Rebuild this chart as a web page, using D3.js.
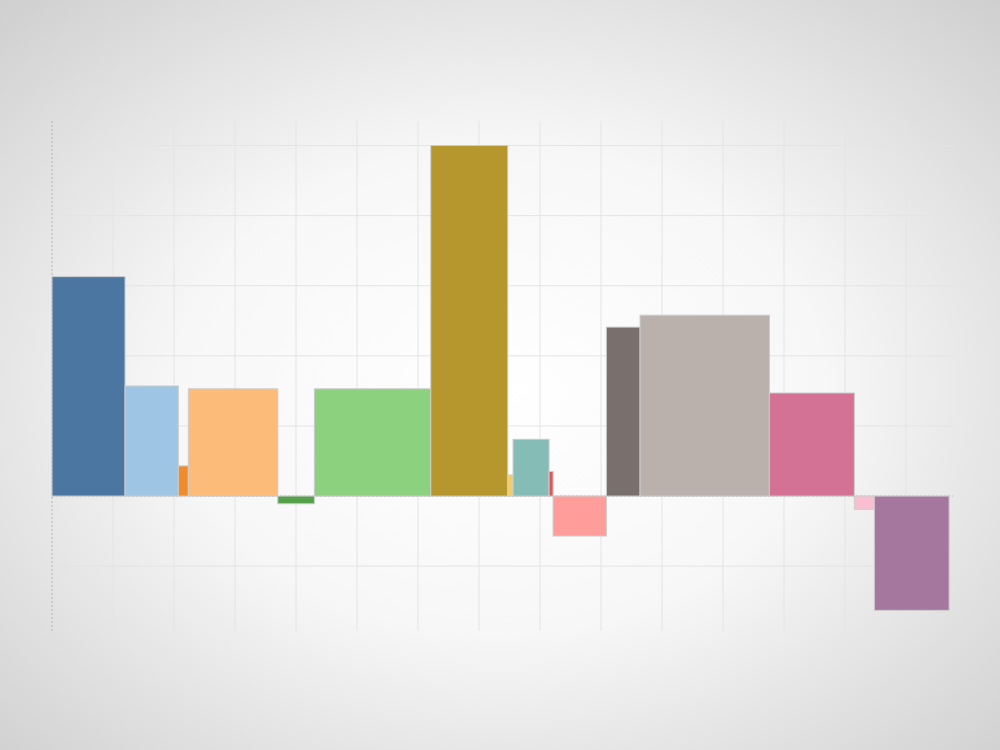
<!DOCTYPE html>
<html>
<head>
<meta charset="utf-8">
<script src="https://cdn.jsdelivr.net/npm/d3@7"></script>
<style>
html,body{margin:0;padding:0;}
svg{display:block;}
</style>
</head>
<body>
<svg id="chart" width="1000" height="750"></svg>
<script>
const categories = ["A","B","C","D","E","F","G","H","I","J","K","L","M","N","O","P"];
const widths = [1.197, 0.874, 0.164, 1.466, 0.600, 1.908, 1.262, 0.087, 0.590, 0.066, 0.874, 0.552, 2.120, 1.393, 0.328, 1.225];
const values = [3.13, 1.57, 0.43, 1.53, -0.11, 1.53, 5.00, 0.30, 0.81, 0.35, -0.57, 2.41, 2.58, 1.47, -0.19, -1.63];
const colors = ["#4a76a1","#9ec6e4","#f08c2a","#fdbb7a","#56a04b","#8cd17d","#b5972d","#f1ce63","#86bcb6","#e15759","#ff9d9a","#79706e","#bab0ac","#d37295","#f9bfd1","#a5769e"];
const xTicks = d3.range(0, 15);
const yTicks = [-1, 0, 1, 2, 3, 4, 5];

const svg = d3.select("#chart");
const defs = svg.append("defs");
const grad = defs.append("radialGradient").attr("id","bg")
  .attr("cx","50%").attr("cy","52%").attr("r","72%");
grad.append("stop").attr("offset","0%").attr("stop-color","#ffffff");
grad.append("stop").attr("offset","45%").attr("stop-color","#f7f7f7");
grad.append("stop").attr("offset","100%").attr("stop-color","#cfcfcf");
svg.append("rect").attr("width",1000).attr("height",750).attr("fill","url(#bg)");

const pLeft = 52, pRight = 953, pTop = 121, pBottom = 631;
const x = d3.scaleLinear().domain([0, 14.77]).range([pLeft, pRight]);
const y = d3.scaleLinear().domain([-1.925, 5.35]).range([pBottom, pTop]);

const g = svg.append("g");
g.selectAll(".vg").data(xTicks.filter(d => d > 0)).join("line")
  .attr("x1", d => x(d)).attr("x2", d => x(d))
  .attr("y1", pTop).attr("y2", pBottom)
  .attr("stroke", "#e4e4e4").attr("stroke-width", 1);
g.selectAll(".hg").data(yTicks).join("line")
  .attr("x1", pLeft).attr("x2", pRight)
  .attr("y1", d => y(d)).attr("y2", d => y(d))
  .attr("stroke", "#e4e4e4").attr("stroke-width", 1);
g.append("line").attr("x1", pLeft).attr("x2", pRight)
  .attr("y1", y(0)).attr("y2", y(0))
  .attr("stroke", "#bbbbbb").attr("stroke-dasharray", "2,2");
g.append("line").attr("x1", pLeft).attr("x2", pLeft)
  .attr("y1", pTop).attr("y2", pBottom)
  .attr("stroke", "#b5b5b5").attr("stroke-dasharray", "2,2");

const starts = [];
let acc = 0;
widths.forEach(w => { starts.push(acc); acc += w; });
const data = categories.map((c, i) => ({c, x0: starts[i], w: widths[i], v: values[i], color: colors[i]}));

g.selectAll(".bar").data(data).join("rect")
  .attr("x", d => x(d.x0))
  .attr("width", d => x(d.x0 + d.w) - x(d.x0))
  .attr("y", d => y(Math.max(0, d.v)))
  .attr("height", d => Math.abs(y(d.v) - y(0)))
  .attr("fill", d => d.color)
  .attr("stroke", "#cccccc")
  .attr("stroke-width", 1);
</script>
</body>
</html>
